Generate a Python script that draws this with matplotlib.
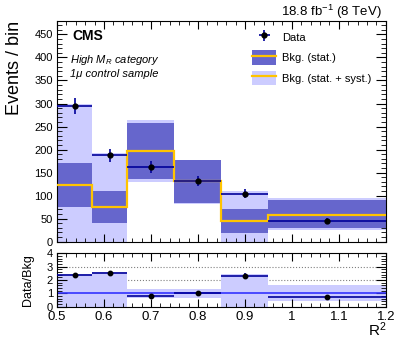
import numpy as np
import matplotlib
matplotlib.use('Agg')
import matplotlib.pyplot as plt
from matplotlib.ticker import MultipleLocator
from matplotlib.lines import Line2D
from matplotlib.patches import Patch

plt.rcParams['font.family'] = ['Liberation Sans', 'DejaVu Sans']
plt.rcParams['mathtext.fontset'] = 'custom'
plt.rcParams['mathtext.rm'] = 'Liberation Sans'
plt.rcParams['mathtext.it'] = 'Liberation Sans:italic'
plt.rcParams['mathtext.bf'] = 'Liberation Sans:bold'
plt.rcParams['mathtext.default'] = 'regular'

# R^2 bins
edges = [0.5, 0.575, 0.65, 0.75, 0.85, 0.95, 1.2]
# observed events and errors
data = [294, 188, 162, 131, 104, 45]
data_err = [17, 14, 13, 11, 10, 7]
# background prediction (central value)
bkg = [123, 74.5, 197, 131, 45, 59]
# stat. band
stat_lo = [76, 40, 137, 83, 19.5, 29]
stat_hi = [170, 110.5, 257, 177, 70, 90]
# stat. + syst. band
syst_lo = [0, 0, 129, 82, 0, 25]
syst_hi = [300, 193, 265, 178, 110, 94]

c_dark = '#6666cc'
c_light = '#ccccff'
c_yellow = '#ffc400'
c_data = '#000099'

edges = np.array(edges)
lefts = edges[:-1]
widths = np.diff(edges)
centers = lefts + widths / 2
bkg_a = np.array(bkg)

fig = plt.figure(figsize=(3.99, 3.38), dpi=100)
ax = fig.add_axes([0.1429, 0.2849, 0.8241, 0.6541])
rax = fig.add_axes([0.1429, 0.0926, 0.8241, 0.158])

# main panel
ax.bar(lefts, np.array(syst_hi) - np.array(syst_lo), bottom=syst_lo, width=widths,
       align='edge', color=c_light, lw=0, zorder=1)
ax.bar(lefts, np.array(stat_hi) - np.array(stat_lo), bottom=stat_lo, width=widths,
       align='edge', color=c_dark, lw=0, zorder=2)
ax.stairs(bkg, edges, color=c_yellow, lw=1.6, baseline=None, zorder=3)
eb = ax.errorbar(centers, data, xerr=widths / 2, yerr=data_err, fmt='o', color='black',
                 ecolor=c_data, elinewidth=1.2, markersize=3.5, capsize=0, zorder=4)

ax.set_xlim(0.5, 1.2)
ax.set_ylim(0, 480)
ax.xaxis.set_major_locator(MultipleLocator(0.1))
ax.xaxis.set_minor_locator(MultipleLocator(0.02))
ax.yaxis.set_major_locator(MultipleLocator(50))
ax.yaxis.set_minor_locator(MultipleLocator(10))
ax.tick_params(which='both', direction='in', top=True, right=True, labelbottom=False)
ax.tick_params(axis='y', which='major', length=7, labelsize=8, pad=3)
ax.tick_params(axis='y', which='minor', length=3.5)
ax.tick_params(axis='x', which='major', length=6)
ax.tick_params(axis='x', which='minor', length=3)

ax.text(0.047, 0.93, 'CMS', transform=ax.transAxes, fontsize=10, fontweight='bold',
        ha='left', va='center')
ax.text(0.04, 0.82, r'High $\mathit{M}_{\mathit{R}}$ category', transform=ax.transAxes,
        fontsize=8, style='italic', ha='left', va='center')
ax.text(0.04, 0.76, '1\u03bc control sample', transform=ax.transAxes,
        fontsize=8, style='italic', ha='left', va='center')

h_stat = (Patch(facecolor=c_dark, lw=0), Line2D([], [], color=c_yellow, lw=1.6))
h_syst = (Patch(facecolor=c_light, lw=0), Line2D([], [], color=c_yellow, lw=1.6))
fig.legend([eb, h_stat, h_syst], ['Data', 'Bkg. (stat.)', 'Bkg. (stat. + syst.)'],
           loc='upper left', bbox_to_anchor=(252 / 399, 1 - 30 / 338), frameon=False,
           fontsize=8, handlelength=2.2, handleheight=1.6, labelspacing=0.55,
           handletextpad=0.5, borderpad=0, borderaxespad=0)

# ratio panel
ratio = np.array(data) / bkg_a
ratio_err = np.array(data_err) / bkg_a
r_lo = np.array(syst_lo) / bkg_a
r_hi = np.array(syst_hi) / bkg_a
for yv in [2, 3]:
    rax.axhline(yv, color='grey', ls=':', lw=0.8, zorder=0)
rax.bar(lefts, r_hi - r_lo, bottom=r_lo, width=widths, align='edge', color=c_light,
        lw=0, zorder=1)
rax.axhline(1, color='#3333ff', lw=1.2, zorder=2)
rax.errorbar(centers, ratio, xerr=widths / 2, yerr=ratio_err, fmt='o', color='black',
             ecolor=c_data, elinewidth=1.2, markersize=3.2, capsize=0, zorder=4)
rax.set_xlim(0.5, 1.2)
rax.set_ylim(0, 4)
rax.xaxis.set_major_locator(MultipleLocator(0.1))
rax.xaxis.set_minor_locator(MultipleLocator(0.02))
rax.yaxis.set_major_locator(MultipleLocator(1))
rax.yaxis.set_minor_locator(MultipleLocator(0.2))
rax.set_xticks([0.5, 0.6, 0.7, 0.8, 0.9, 1.0, 1.1, 1.2])
rax.set_xticklabels(['0.5', '0.6', '0.7', '0.8', '0.9', '1', '1.1', '1.2'])
rax.tick_params(which='both', direction='in', top=True, right=True)
rax.tick_params(axis='x', which='major', length=6, labelsize=9.5, pad=3)
rax.tick_params(axis='x', which='minor', length=3)
rax.tick_params(axis='y', which='major', length=7, labelsize=8, pad=3)
rax.tick_params(axis='y', which='minor', length=3.5)

fig.text(0.037, 0.939, 'Events / bin', rotation=90, ha='center', va='top', fontsize=13)
fig.text(0.07, 0.1716, 'Data/Bkg', rotation=90, ha='center', va='center', fontsize=9)
fig.text(0.969, -0.004, 'R$^{2}$', ha='right', va='bottom', fontsize=11)
fig.text(0.957, 0.965, '18.8 fb$^{-1}$ (8 TeV)', ha='right', va='center', fontsize=9.5)

fig.savefig('out.png', dpi=100)
